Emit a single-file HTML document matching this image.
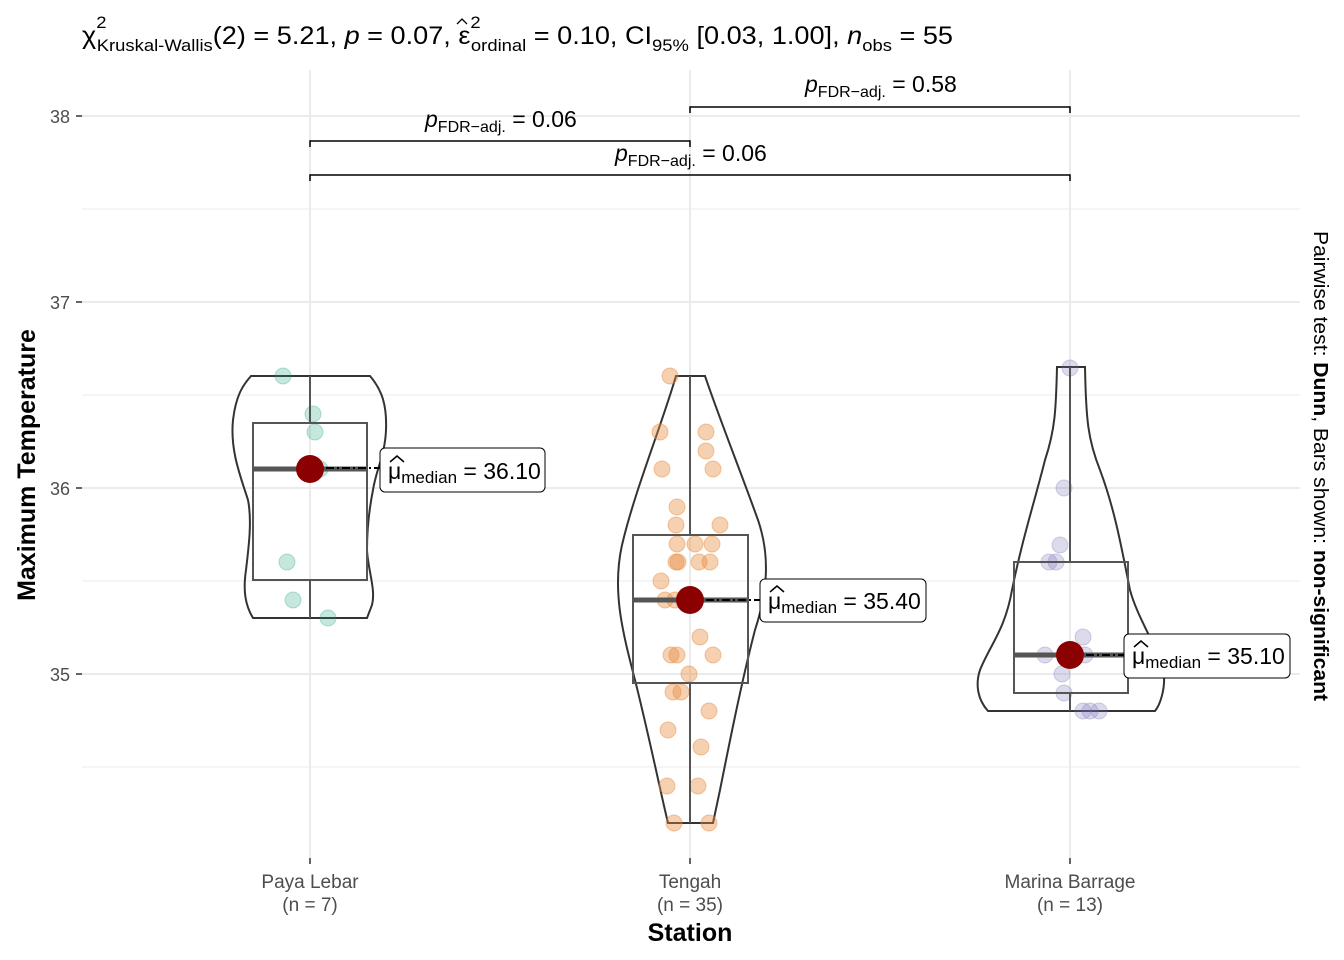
<!DOCTYPE html>
<html><head><meta charset="utf-8"><style>body{margin:0;background:#fff}svg{display:block;font-family:"Liberation Sans",sans-serif}</style></head><body>
<svg width="1344" height="960" viewBox="0 0 1344 960" xmlns="http://www.w3.org/2000/svg">
<g stroke="#ebebeb" stroke-width="1">
<line x1="82" x2="1300" y1="209" y2="209"/><line x1="82" x2="1300" y1="395" y2="395"/><line x1="82" x2="1300" y1="581" y2="581"/><line x1="82" x2="1300" y1="767" y2="767"/>
</g>
<g stroke="#ebebeb" stroke-width="2">
<line x1="82" x2="1300" y1="116" y2="116"/><line x1="82" x2="1300" y1="302" y2="302"/><line x1="82" x2="1300" y1="488" y2="488"/><line x1="82" x2="1300" y1="674" y2="674"/>
<line x1="310" x2="310" y1="70" y2="858"/><line x1="690" x2="690" y1="70" y2="858"/><line x1="1070" x2="1070" y1="70" y2="858"/>
</g>
<g fill="none" stroke="#333" stroke-width="2">
<path d="M251 376 L370 376 C382 390 387 405 386 430 C385 455 376 470 373 490 C368 515 367 535 367 550 C368 570 376 590 372 605 L367 618 L253 618 C245 605 243 590 246 570 C249 545 252 520 248 500 C240 475 230 450 233 420 C236 395 243 385 251 376 Z"/>
<path d="M676 376 L705 376 C720 420 740 470 758 520 C770 555 768 590 755 630 C742 680 730 740 720 790 L713 823 L668 823 C660 790 650 740 635 680 C622 630 612 590 622 545 C635 490 660 430 676 376 Z"/>
<path d="M1057 367 L1085 367 C1086 420 1088 440 1100 470 C1115 510 1122 550 1130 590 C1138 620 1160 650 1164 675 C1165 690 1160 705 1155 711 L988 711 C978 700 975 685 980 670 C990 645 1005 630 1012 590 C1022 540 1035 500 1045 460 C1055 430 1056 410 1057 367 Z"/>
</g>
<g fill="#1b9e77" fill-opacity="0.25" stroke="#1b9e77" stroke-opacity="0.3">
<circle cx="283" cy="376" r="8"/><circle cx="313" cy="414" r="8"/><circle cx="315" cy="432" r="8"/><circle cx="320" cy="469" r="8"/><circle cx="287" cy="562" r="8"/><circle cx="293" cy="600" r="8"/><circle cx="328" cy="618" r="8"/>
</g>
<g fill="#e6893d" fill-opacity="0.4" stroke="#e6893d" stroke-opacity="0.45">
<circle cx="670" cy="376" r="8"/><circle cx="660" cy="432" r="8"/><circle cx="706" cy="432" r="8"/><circle cx="706" cy="451" r="8"/><circle cx="662" cy="469" r="8"/><circle cx="713" cy="469" r="8"/><circle cx="677" cy="507" r="8"/><circle cx="676" cy="525" r="8"/><circle cx="720" cy="525" r="8"/><circle cx="677" cy="544" r="8"/><circle cx="695" cy="544" r="8"/><circle cx="712" cy="544" r="8"/><circle cx="676" cy="562" r="8"/><circle cx="678" cy="562" r="8"/><circle cx="699" cy="562" r="8"/><circle cx="710" cy="562" r="8"/><circle cx="661" cy="581" r="8"/><circle cx="665" cy="600" r="8"/><circle cx="675" cy="600" r="8"/><circle cx="700" cy="637" r="8"/><circle cx="671" cy="655" r="8"/><circle cx="677" cy="655" r="8"/><circle cx="713" cy="655" r="8"/><circle cx="689" cy="674" r="8"/><circle cx="673" cy="692" r="8"/><circle cx="681" cy="692" r="8"/><circle cx="709" cy="711" r="8"/><circle cx="668" cy="730" r="8"/><circle cx="701" cy="747" r="8"/><circle cx="667" cy="786" r="8"/><circle cx="698" cy="786" r="8"/><circle cx="674" cy="823" r="8"/><circle cx="709" cy="823" r="8"/>
</g>
<g fill="#7570b3" fill-opacity="0.25" stroke="#7570b3" stroke-opacity="0.3">
<circle cx="1070" cy="368" r="8"/><circle cx="1064" cy="488" r="8"/><circle cx="1060" cy="545" r="8"/><circle cx="1049" cy="562" r="8"/><circle cx="1056" cy="562" r="8"/><circle cx="1083" cy="637" r="8"/><circle cx="1045" cy="655" r="8"/><circle cx="1085" cy="655" r="8"/><circle cx="1062" cy="674" r="8"/><circle cx="1064" cy="693" r="8"/><circle cx="1083" cy="711" r="8"/><circle cx="1090" cy="711" r="8"/><circle cx="1099" cy="711" r="8"/>
</g>
<g fill="none" stroke="#555" stroke-width="2">
<line x1="310" x2="310" y1="376" y2="423"/><line x1="310" x2="310" y1="580" y2="618"/><rect x="253" y="423" width="114" height="157"/>
<line x1="690" x2="690" y1="376" y2="535"/><line x1="690" x2="690" y1="683" y2="823"/><rect x="633" y="535" width="115" height="148"/>
<line x1="1070" x2="1070" y1="367" y2="562"/><line x1="1070" x2="1070" y1="693" y2="711"/><rect x="1014" y="562" width="114" height="131"/>
</g>
<g stroke="#555" stroke-width="5">
<line x1="253" x2="367" y1="469" y2="469"/><line x1="633" x2="748" y1="600" y2="600"/><line x1="1014" x2="1128" y1="655" y2="655"/>
</g>
<g stroke="#000" stroke-width="2" stroke-dasharray="8,3,2,3">
<line x1="310" x2="380" y1="468" y2="468"/><line x1="690" x2="760" y1="600" y2="600"/><line x1="1070" x2="1124" y1="655" y2="655"/>
</g>
<g fill="#8b0000"><circle cx="310" cy="469" r="14"/><circle cx="690" cy="600" r="14"/><circle cx="1070" cy="655" r="14"/></g>
<g fill="#fff" stroke="#000" stroke-width="1"><rect x="380" y="448" width="165" height="44" rx="5"/><rect x="760" y="579" width="166" height="43" rx="5"/><rect x="1124" y="634" width="166" height="44" rx="5"/></g>
<g font-size="23" fill="#000">
<text x="388" y="479">μ<tspan font-size="17" dy="4">median</tspan><tspan dy="-4"> = 36.10</tspan></text>
<text x="768" y="609">μ<tspan font-size="17" dy="4">median</tspan><tspan dy="-4"> = 35.40</tspan></text>
<text x="1132" y="664">μ<tspan font-size="17" dy="4">median</tspan><tspan dy="-4"> = 35.10</tspan></text>
</g>
<g fill="none" stroke="#000" stroke-width="1.5"><path d="M390 462 l7 -6 l7 6"/><path d="M770 592 l7 -6 l7 6"/><path d="M1134 647 l7 -6 l7 6"/></g>
<g fill="none" stroke="#000" stroke-width="1.5">
<path d="M310 147 V141 H690 V147"/><path d="M690 113 V107 H1070 V113"/><path d="M310 181 V175 H1070 V181"/>
</g>
<g font-size="23" fill="#000">
<text x="425" y="127"><tspan font-style="italic">p</tspan><tspan font-size="16" dy="5">FDR−adj.</tspan><tspan dy="-5"> = 0.06</tspan></text>
<text x="805" y="92"><tspan font-style="italic">p</tspan><tspan font-size="16" dy="5">FDR−adj.</tspan><tspan dy="-5"> = 0.58</tspan></text>
<text x="615" y="161"><tspan font-style="italic">p</tspan><tspan font-size="16" dy="5">FDR−adj.</tspan><tspan dy="-5"> = 0.06</tspan></text>
</g>
<g stroke="#333" stroke-width="1.5"><line x1="76" x2="82" y1="116" y2="116"/><line x1="76" x2="82" y1="302" y2="302"/><line x1="76" x2="82" y1="488" y2="488"/><line x1="76" x2="82" y1="674" y2="674"/>
<line x1="310" x2="310" y1="858" y2="864"/><line x1="690" x2="690" y1="858" y2="864"/><line x1="1070" x2="1070" y1="858" y2="864"/></g>
<g font-size="18" fill="#4d4d4d" text-anchor="end"><text x="70" y="123">38</text><text x="70" y="309">37</text><text x="70" y="495">36</text><text x="70" y="681">35</text></g>
<g font-size="19" fill="#4d4d4d" text-anchor="middle"><text x="310" y="888">Paya Lebar</text><text x="310" y="911">(n = 7)</text><text x="690" y="888">Tengah</text><text x="690" y="911">(n = 35)</text><text x="1070" y="888">Marina Barrage</text><text x="1070" y="911">(n = 13)</text></g>
<text x="690" y="941" font-size="25" font-weight="bold" text-anchor="middle">Station</text>
<text transform="translate(35,465) rotate(-90)" font-size="25" font-weight="bold" text-anchor="middle">Maximum Temperature</text>
<text transform="translate(1314,466) rotate(90)" font-size="20" text-anchor="middle" textLength="470" lengthAdjust="spacingAndGlyphs">Pairwise test: <tspan font-weight="bold">Dunn</tspan>, Bars shown: <tspan font-weight="bold">non-significant</tspan></text>
<text x="82" y="44" font-size="25" textLength="871" lengthAdjust="spacingAndGlyphs">χ<tspan font-size="17" dy="-16">2</tspan><tspan font-size="17" dx="-9" dy="23">Kruskal-Wallis</tspan><tspan dy="-7">(2) = 5.21, </tspan><tspan font-style="italic">p</tspan> = 0.07, ε<tspan font-size="17" dy="-16">2</tspan><tspan font-size="17" dx="-9" dy="23">ordinal</tspan><tspan dy="-7"> = 0.10, CI</tspan><tspan font-size="17" dy="7">95%</tspan><tspan dy="-7"> [0.03, 1.00], </tspan><tspan font-style="italic">n</tspan><tspan font-size="17" dy="7">obs</tspan><tspan dy="-7"> = 55</tspan></text>
<path d="M457 24 l5 -5 l5 5" fill="none" stroke="#000" stroke-width="1.3"/>
</svg>
</body></html>
